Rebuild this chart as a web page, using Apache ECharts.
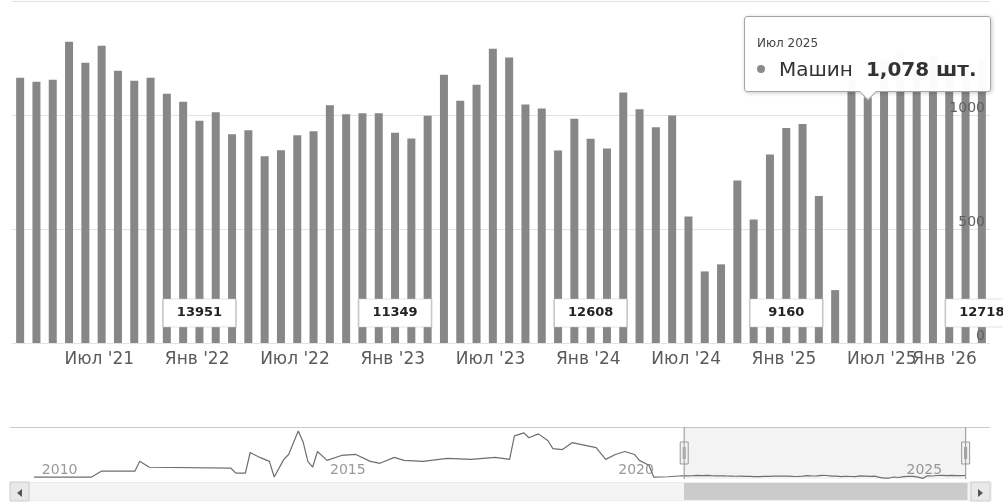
<!DOCTYPE html>
<html>
<head>
<meta charset="utf-8">
<script src="https://cdn.jsdelivr.net/npm/echarts@6/dist/echarts.min.js"></script>
<style>
html,body{margin:0;padding:0;background:#fff;}
#c{width:1003px;height:504px;}
</style>
</head>
<body>
<div id="c"></div>
<script>
// ---------- data ----------
const monthNames = ['Янв','Фев','Мар','Апр','Май','Июн','Июл','Авг','Сен','Окт','Ноя','Дек'];

// monthly cars, Mar 2021 … Feb 2026
const barFirstMonth = '2021-03';
const carsPerMonth = [
  1163,1146,1155,1321,1229,1304,1194,1150,1163,1093,1058,975,
  1012,916,933,819,845,911,929,1043,1003,1008,1008,922,
  897,997,1177,1063,1133,1291,1252,1046,1028,844,984,896,
  853,1099,1025,946,998,555,314,345,713,542,827,943,
  961,645,232,1150,1078,1240,1280,1210,1260,1230,1190,1242
];

// 12-month totals shown in boxes
const totalMonths = ['2022-02','2023-02','2024-02','2025-02','2026-02'];
const rollingTotals = [13951, 11349, 12608, 9160, 12718];

// navigator history
const navHistMonths = ['2009-12','2010-12','2011-02','2011-09','2011-10','2011-12','2013-05','2013-06','2013-08','2013-09',
  '2013-11','2014-01','2014-02','2014-04','2014-05','2014-07','2014-08','2014-09','2014-10','2014-11',
  '2015-01','2015-04','2015-07','2015-10','2015-12','2016-03','2016-05','2016-09','2017-02','2017-07',
  '2017-12','2018-03','2018-04','2018-06','2018-07','2018-09','2018-11','2018-12','2019-02','2019-04',
  '2019-06','2019-09','2019-11','2020-01','2020-03','2020-05','2020-06','2020-08','2020-09','2020-12'];
const navHistValues = [700,700,2800,2800,6300,4200,3850,2100,2100,9450,
  7700,6300,700,7000,8750,17150,13300,6300,4200,9800,
  6650,8400,8750,6300,5600,7700,6650,6300,7350,7000,
  7700,7000,15400,16450,14700,16100,13650,10850,10500,12950,
  12250,11200,7000,8750,9800,8750,6650,4900,700,800];

// shared month axis (Jul 2009 … Jul 2026)
const axisStartYear = 2009, axisStartMonth = 7, axisLength = 205;
const allMonths = [];
for (let i = 0; i < axisLength; i++) {
  const t = axisStartMonth - 1 + i;
  allMonths.push((axisStartYear + Math.floor(t / 12)) + '-' + String(t % 12 + 1).padStart(2, '0'));
}
const lastLabelMonth = '2026-01';
const tooltipMonth = '2025-07';

// ---------- derived ----------
const barStart = allMonths.indexOf(barFirstMonth);
const barEnd = barStart + carsPerMonth.length - 1;
const barData = allMonths.map((m, i) => (i >= barStart && i <= barEnd) ? carsPerMonth[i - barStart] : null);
const navMap = {};
navHistMonths.forEach((m, i) => { navMap[m] = navHistValues[i]; });
const navData = allMonths.map((m, i) => (navMap[m] != null ? navMap[m] : barData[i]));
const endMonth = allMonths[barEnd];

const FONT = 'DejaVu Sans';
function isLabelMonth(v) { return v.endsWith('-01') || v.endsWith('-07'); }
function monthLabel(v) { return monthNames[+v.slice(5) - 1] + " '" + v.slice(2, 4); }
function monthLong(v) { return monthNames[+v.slice(5) - 1] + ' ' + v.slice(0, 4); }

const chart = echarts.init(document.getElementById('c'));

const option = {
  animation: false,
  textStyle: { fontFamily: FONT },
  grid: [
    { left: 12, right: 13, top: 1, height: 342, outerBoundsMode: 'none', containLabel: false },
    { left: 10, right: 13, top: 427, height: 52, outerBoundsMode: 'none', containLabel: false }
  ],
  xAxis: [
    {
      type: 'category', gridIndex: 0, data: allMonths, boundaryGap: true,
      axisLine: { show: false }, axisTick: { show: false },
      axisLabel: {
        interval: (i, v) => isLabelMonth(v) || v === endMonth,
        hideOverlap: false,
        margin: 8,
        formatter: v => !isLabelMonth(v) ? '{s| }' : (v === lastLabelMonth ? '{e|' : '{m|') + monthLabel(v) + '}',
        rich: {
          m: { fontFamily: FONT, fontSize: 17, color: '#5a5a5a', padding: [0, 0, 0, 28] },
          e: { fontFamily: FONT, fontSize: 17, color: '#5a5a5a', padding: [0, 42, 0, 0] },
          s: { fontFamily: FONT, fontSize: 17 }
        }
      }
    },
    {
      type: 'category', gridIndex: 1, data: allMonths, boundaryGap: false,
      axisLine: { show: false }, axisTick: { show: false },
      axisLabel: {
        inside: true,
        interval: (i, v) => v.endsWith('-01') && (+v.slice(0, 4)) % 5 === 0,
        formatter: v => v.slice(0, 4),
        align: 'left', verticalAlign: 'bottom', margin: 2, padding: [0, 0, 0, 3],
        color: '#999', fontSize: 14, fontFamily: FONT
      }
    }
  ],
  yAxis: [
    {
      type: 'value', gridIndex: 0, position: 'right', min: 0, max: 1500, interval: 500,
      axisLine: { show: false }, axisTick: { show: false }, axisLabel: { show: false },
      splitLine: { lineStyle: { color: '#e3e3e3', width: 1 } }
    },
    {
      type: 'value', gridIndex: 0, position: 'right', min: 0, max: 1500, interval: 500, z: 10,
      axisLine: { show: false }, axisTick: { show: false }, splitLine: { show: false },
      axisLabel: { inside: true, verticalAlign: 'bottom', margin: 5, color: '#606060', fontSize: 14, fontFamily: FONT,
        formatter: v => String(v) }
    },
    {
      type: 'value', gridIndex: 1, min: 0, max: 18550, interval: 18550,
      axisLine: { show: false }, axisTick: { show: false }, axisLabel: { show: false },
      splitLine: { show: true, showMinLine: false, lineStyle: { color: '#cccccc', width: 1 } }
    }
  ],
  tooltip: {
    trigger: 'item', triggerOn: 'none', alwaysShowContent: true, transitionDuration: 0,
    backgroundColor: 'rgba(255,255,255,0.97)', borderColor: '#a5a5a5', borderWidth: 1,
    padding: [18, 12, 10, 12],
    extraCssText: 'border-radius:3px;box-shadow:1px 1px 4px rgba(0,0,0,0.22);',
    textStyle: { color: '#333', fontFamily: FONT },
    position: function (point, params, dom, rect, size) {
      const w = size.contentSize[0], h = size.contentSize[1];
      if (rect) return [rect.x + rect.width / 2 - w / 2, rect.y - h - 5];
      return [point[0] - w / 2, point[1] - h - 5];
    },
    formatter: function (p) {
      return '<div style="position:relative;white-space:nowrap;width:221px;">' +
        '<div style="font-size:12px;line-height:16px;color:#444;">' + monthLong(p.name) + '</div>' +
        '<div style="margin-top:6px;line-height:24px;font-size:20px;color:#333;">' +
        '<span style="display:inline-block;width:8px;height:8px;border-radius:4px;background:#8a8a8a;vertical-align:middle;margin-right:14px;position:relative;top:-2px;"></span>' +
        p.seriesName + '<b style="margin-left:13px;">' + p.value.toLocaleString('en-US') + ' шт.</b></div>' +
        '</div>' +
        '<div style="position:absolute;left:50%;bottom:-7px;margin-left:-6px;width:11px;height:11px;background:#fff;' +
        'border-right:1px solid #a5a5a5;border-bottom:1px solid #a5a5a5;transform:rotate(45deg);"></div>';
    }
  },
  dataZoom: [
    {
      type: 'slider', xAxisIndex: 0, filterMode: 'none', startValue: barStart, endValue: barEnd,
      left: 10, right: 13, top: 427, height: 52,
      showDataShadow: false, showDetail: false, brushSelect: false, zoomLock: true,
      backgroundColor: 'rgba(0,0,0,0)', borderColor: 'rgba(0,0,0,0)', borderRadius: 0,
      fillerColor: 'rgba(120,125,135,0.09)',
      handleIcon: 'path://M5,0L5,52M1,15h8v22h-8ZM4,20v12M6,20v12',
      handleSize: '100%',
      handleStyle: { color: '#f2f2f2', borderColor: '#9a9a9a', borderWidth: 1 },
      moveHandleSize: 0
    },
    {
      type: 'slider', xAxisIndex: 0, filterMode: 'none', startValue: barStart, endValue: barEnd,
      left: 10, right: 13, top: 482, height: 19,
      showDataShadow: false, showDetail: false, brushSelect: false, zoomLock: true,
      backgroundColor: '#f4f4f4', borderColor: '#ececec', borderRadius: 0,
      fillerColor: '#cbcbcb',
      handleIcon: 'path://M0,0h1v1h-1Z', handleSize: '100%',
      handleStyle: { color: 'rgba(0,0,0,0)', borderColor: 'rgba(0,0,0,0)' },
      moveHandleSize: 0
    }
  ],
  graphic: [
    { type: 'rect', shape: { x: 10, y: 482, width: 19, height: 19 }, style: { fill: '#e9e9e9', stroke: '#cccccc' }, z: 20 },
    { type: 'polygon', shape: { points: [[22, 489], [22, 497], [17, 493]] }, style: { fill: '#555' }, z: 21 },
    { type: 'rect', shape: { x: 971, y: 482, width: 19, height: 19 }, style: { fill: '#e9e9e9', stroke: '#cccccc' }, z: 20 },
    { type: 'polygon', shape: { points: [[978, 489], [978, 497], [983, 493]] }, style: { fill: '#555' }, z: 21 }
  ],
  series: [
    {
      name: 'Машин', type: 'bar', xAxisIndex: 0, yAxisIndex: 0, data: barData,
      barWidth: 8, itemStyle: { color: '#878787' },
      markPoint: {
        silent: true, animation: false,
        symbol: 'rect', symbolSize: [73, 28], symbolOffset: [0, -30],
        itemStyle: { color: '#ffffff', borderColor: '#c8c8c8', borderWidth: 1 },
        label: { show: true, color: '#222', fontWeight: 'bold', fontSize: 13, fontFamily: FONT, formatter: p => String(p.value) },
        data: totalMonths.map((m, i) => ({ coord: [m, 0], value: rollingTotals[i] }))
      }
    },
    {
      name: 'nav', type: 'line', xAxisIndex: 1, yAxisIndex: 2, data: navData,
      connectNulls: true, symbol: 'none', silent: true, tooltip: { show: false },
      lineStyle: { color: '#6e6e6e', width: 1.2 }
    }
  ]
};

chart.setOption(option);
const tipIndex = allMonths.indexOf(tooltipMonth);
function showTip() { chart.dispatchAction({ type: 'showTip', seriesIndex: 0, dataIndex: tipIndex }); }
showTip();
setTimeout(showTip, 50);
</script>
</body>
</html>
